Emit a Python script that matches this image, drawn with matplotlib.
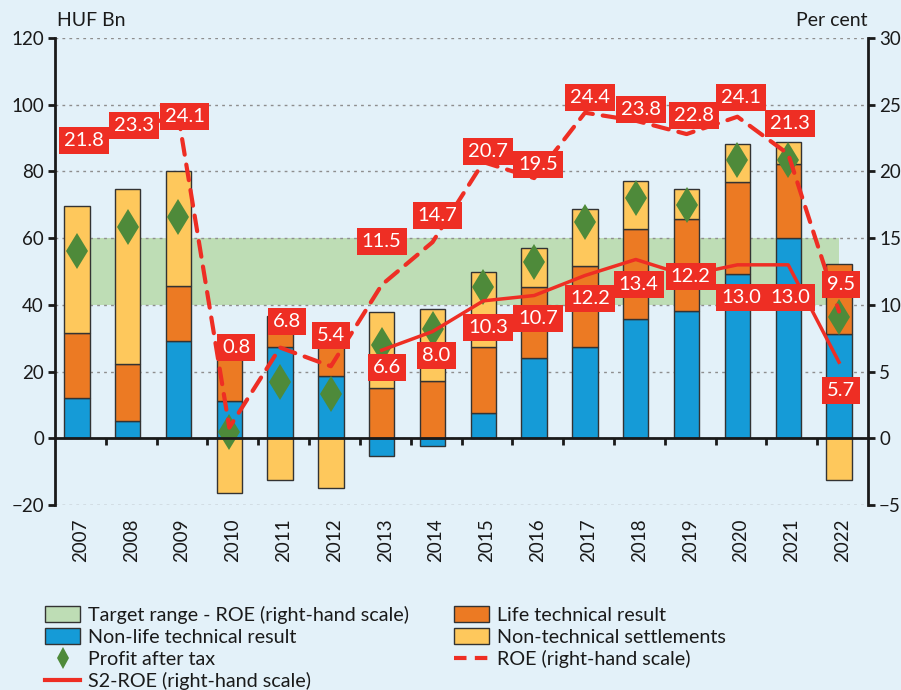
import matplotlib
matplotlib.use('Agg')
import matplotlib.pyplot as plt
from matplotlib.patches import Patch
from matplotlib.lines import Line2D
import numpy as np

plt.rcParams['font.family'] = ['Lato', 'DejaVu Sans']

years = ['2007', '2008', '2009', '2010', '2011', '2012', '2013', '2014',
         '2015', '2016', '2017', '2018', '2019', '2020', '2021', '2022']
nonlife = [12.0, 5.2, 29.2, 11.2, 27.5, 18.7, -5.2, -2.3,
           7.5, 24.0, 27.5, 35.8, 38.1, 49.4, 59.9, 31.3]
life = [19.5, 17.2, 16.4, 13.0, 9.1, 12.5, 15.1, 17.3,
        20.0, 21.5, 24.2, 27.0, 27.7, 27.5, 22.4, 21.0]
nontech = [38.0, 52.4, 34.4, -16.5, -12.5, -15.0, 22.9, 21.5,
           22.5, 11.4, 17.0, 14.2, 9.0, 11.4, 6.6, -12.5]
profit = [56.0, 63.4, 66.4, 2.0, 17.0, 13.4, 28.0, 32.8,
          45.5, 52.7, 64.9, 72.0, 70.0, 83.5, 83.5, 36.5]
roe = [21.8, 23.3, 24.1, 0.8, 6.8, 5.4, 11.5, 14.7,
       20.7, 19.5, 24.4, 23.8, 22.8, 24.1, 21.3, 9.5]
s2_years = years[6:]
s2_roe = [6.6, 8.0, 10.3, 10.7, 12.2, 13.4, 12.2, 13.0, 13.0, 5.7]
target_low, target_high = 10, 15

# label offsets in pixels (dx, dy)
roe_off = [(7, 7), (6, 2), (6, 0), (7, 80), (7, 26), (0, 31), (0, 43), (5, 27),
           (5, 11), (4, 14), (5, 15), (5, 11), (7, 19), (4, 19), (2, 31), (2, 27)]
s2_off = [(5, -17), (4, -24), (5, -27), (4, -23), (5, -23), (3, -25),
          (4, -1), (4, -33), (2, -33), (2, -28)]

BG = '#E3F1F9'
BLUE = '#159BD7'
ORANGE = '#EC7A23'
YELLOW = '#FEC85C'
GREEN_BAND = '#BEDDB5'
GREEN = '#4E8A3A'
RED = '#EE2E24'
INK = '#1A1A1A'

x = np.arange(len(years))
nl = np.array(nonlife)
lf = np.array(life)
nt = np.array(nontech)

fig = plt.figure(figsize=(9.01, 6.9), dpi=100, facecolor=BG)
ax = fig.add_axes([55 / 901, 1 - 505 / 690, 813 / 901, 467 / 690])
ax.set_facecolor(BG)

ax.fill_between([0, 15], target_low * 4, target_high * 4, color=GREEN_BAND,
                lw=0, zorder=0.3)

# stacking: positives upward, negatives downward
pos = np.zeros(len(x))
neg = np.zeros(len(x))
bw = 0.5
for vals, col in [(nl, BLUE), (lf, ORANGE), (nt, YELLOW)]:
    base = np.where(vals >= 0, pos, neg)
    ax.bar(x, vals, bw, bottom=base, color=col, edgecolor='#333333',
           linewidth=1, zorder=2)
    pos = pos + np.where(vals >= 0, vals, 0)
    neg = neg + np.where(vals < 0, vals, 0)

ax.plot(x, profit, linestyle='none', marker='d', markersize=18,
        color=GREEN, markeredgewidth=0, zorder=3)

ax.set_xlim(-0.43, 15.57)
ax.set_ylim(-20, 120)
ax.set_yticks(range(-20, 121, 20))
ax.grid(axis='y', linestyle=(0, (2, 3)), color='#8E8E8E', lw=1)
ax.set_axisbelow(True)
ax.set_xticks(np.arange(1, 16) - 0.43)
ax.set_xticklabels([])
ax.spines['bottom'].set_position(('data', 0))
ax.spines['top'].set_visible(False)
ax.spines['right'].set_visible(False)
for s in ['left', 'bottom']:
    ax.spines[s].set_linewidth(2)
    ax.spines[s].set_color(INK)
ax.spines['bottom'].set_zorder(4)
ax.tick_params(axis='x', direction='out', length=5, width=2, color=INK)
ax.tick_params(axis='y', direction='out', length=5, width=2, color=INK,
               labelsize=13.5, labelcolor=INK, pad=3)

for i, yr in enumerate(years):
    ax.text(i + 0.07, -24, yr, rotation=90, ha='center', va='top',
            fontsize=13.5, color=INK)

ax2 = ax.twinx()
ax2.set_ylim(-5, 30)
ax2.set_yticks(range(-5, 31, 5))
for s in ['left', 'top', 'bottom']:
    ax2.spines[s].set_visible(False)
ax2.spines['right'].set_linewidth(2)
ax2.spines['right'].set_color(INK)
ax2.tick_params(axis='y', direction='out', length=5, width=2, color=INK,
                labelsize=13.5, labelcolor=INK, pad=3)

ax2.plot(x, roe, color=RED, lw=3, linestyle=(0, (3.8, 2.4)),
         dash_capstyle='round', zorder=3)
xs2 = x[6:]
ax2.plot(xs2, s2_roe, color=RED, lw=2.5, zorder=3)

box = dict(boxstyle='square,pad=0.25', fc=RED, ec='none')
for xi, v, (dx, dy) in zip(x, roe, roe_off):
    ax2.annotate(f'{v:.1f}', (xi, v), xytext=(dx * 0.72, dy * 0.72),
                 textcoords='offset points', ha='center', va='center',
                 color='white', fontsize=14.5, bbox=box, zorder=5)
for xi, v, (dx, dy) in zip(xs2, s2_roe, s2_off):
    ax2.annotate(f'{v:.1f}', (xi, v), xytext=(dx * 0.72, dy * 0.72),
                 textcoords='offset points', ha='center', va='center',
                 color='white', fontsize=14.5, bbox=box, zorder=5)

fig.text(57 / 901, 1 - 21 / 690, 'HUF Bn', fontsize=14, color=INK,
         va='center', ha='left')
fig.text(868 / 901, 1 - 21 / 690, 'Per cent', fontsize=14, color=INK,
         va='center', ha='right')

handles = [
    Patch(facecolor=GREEN_BAND, edgecolor='#333333', lw=1,
          label='Target range - ROE (right-hand scale)'),
    Patch(facecolor=BLUE, edgecolor='#333333', lw=1,
          label='Non-life technical result'),
    Line2D([], [], linestyle='none', marker='d', markersize=11, color=GREEN,
           markeredgewidth=0, label='Profit after tax'),
    Line2D([], [], color=RED, lw=3, label='S2-ROE (right-hand scale)'),
    Patch(facecolor=ORANGE, edgecolor='#333333', lw=1,
          label='Life technical result'),
    Patch(facecolor=YELLOW, edgecolor='#333333', lw=1,
          label='Non-technical settlements'),
    Line2D([], [], color=RED, lw=3, linestyle=(0, (3, 2)),
           label='ROE (right-hand scale)'),
]
fig.legend(handles=handles, loc='upper left', ncol=2, frameon=False,
           bbox_to_anchor=(37 / 901, 1 - 598 / 690), fontsize=14.2,
           handlelength=1.8, handleheight=0.85, handletextpad=0.4,
           labelspacing=0.22, columnspacing=2.25, borderaxespad=0,
           labelcolor=INK)

fig.savefig('out.png', dpi=100, facecolor=BG)
